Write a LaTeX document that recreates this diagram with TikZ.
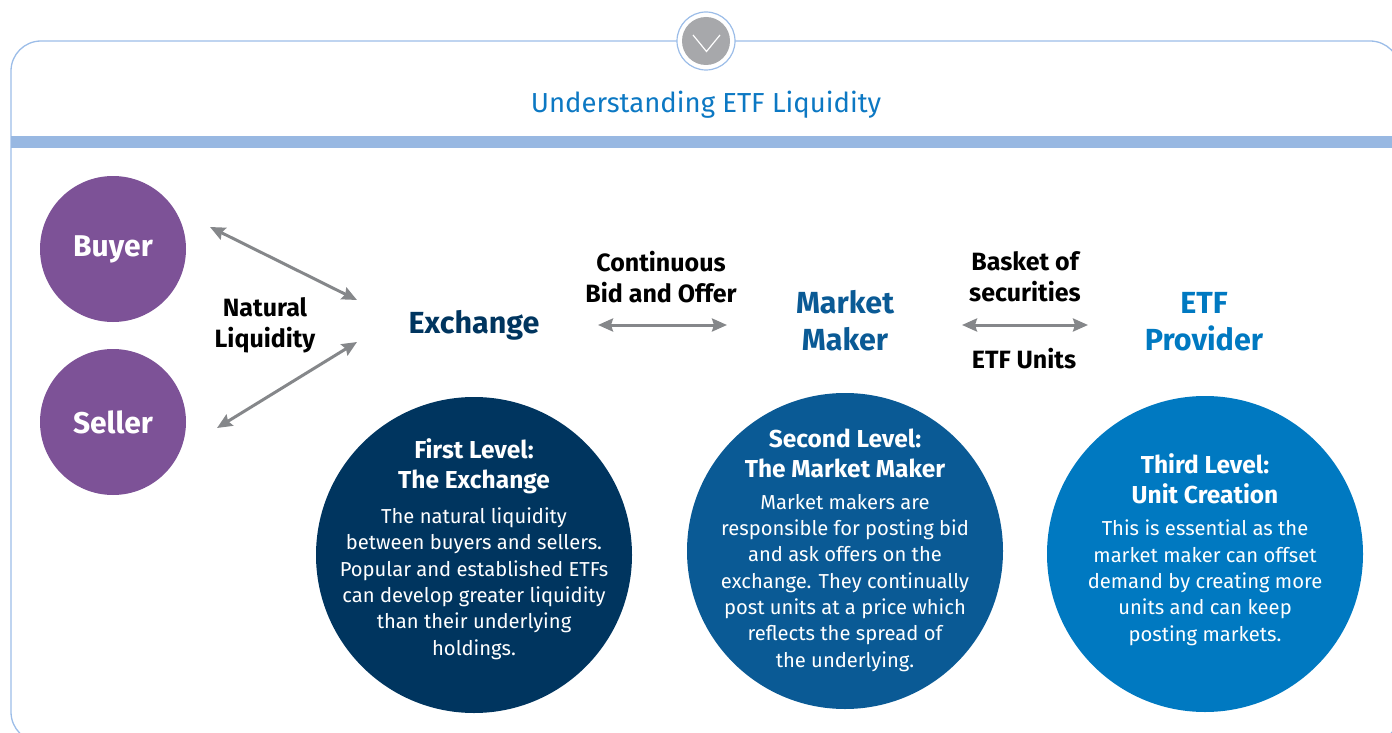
\documentclass[tikz,border=0pt]{standalone}
\usepackage{fontspec}
\setmainfont{Fira Sans}
\usetikzlibrary{arrows.meta}

\definecolor{framebl}{HTML}{9CBDE8}
\definecolor{bandbl}{HTML}{98B8E2}
\definecolor{badgegrey}{HTML}{A7A8AB}
\definecolor{titlebl}{HTML}{0C78C3}
\definecolor{traderpurple}{HTML}{7D5297}
\definecolor{levone}{HTML}{00355F}
\definecolor{levtwo}{HTML}{0A5A95}
\definecolor{levthree}{HTML}{0079C1}
\definecolor{linkgrey}{HTML}{85878A}

\begin{document}
\begin{tikzpicture}[
  x=1pt, y=-1pt, >={Stealth[length=15pt, width=13pt, inset=2pt]},
  every node/.style={align=center, inner sep=0pt},
  trader/.style={circle, fill=traderpurple, minimum size=146pt, text=white,
    font=\fontsize{30}{34}\selectfont\bfseries},
  level/.style={circle, minimum size=316pt},
  lvhead/.style={anchor=base, text=white, font=\fontsize{24.5}{29.5}\selectfont\bfseries},
  lvbody/.style={anchor=base, text=white, font=\fontsize{20.2}{26.3}\selectfont},
  role/.style={anchor=base, font=\fontsize{30.5}{37}\selectfont\bfseries},
  flow/.style={anchor=base, font=\fontsize{25}{31}\selectfont\bfseries},
  link/.style={<->, draw=linkgrey, line width=3pt}
]
  \useasboundingbox (0,0) rectangle (1392,733);
  \clip (0,0) rectangle (1392,733);

  % panel frame, band and the badge on top
  \draw[framebl, line width=1.3pt, rounded corners=30pt] (11,41) rectangle (1400,742);
  \fill[bandbl] (11,136) rectangle (1400,148);
  \node[circle, draw=framebl, fill=white, line width=1.2pt, minimum size=58pt] (badge) at (706,41) {};
  \node[circle, fill=badgegrey, minimum size=48pt] (badgein) at (706,41) {};
  \draw[white, line width=1.2pt] (693,35) -- (706.5,51.5) -- (720,35);
  \node[anchor=base, text=titlebl, font=\fontsize{27.5}{32}\selectfont] (title) at (706,113) {Understanding ETF Liquidity};

  % buyers and sellers
  \node[trader] (buyer) at (113,249) {Buyer};
  \node[trader] (seller) at (113,422) {Seller};

  % the three parties (base = last line)
  \node[role, text=levone] (exchange) at (474,333) {Exchange};
  \node[role, text=levtwo] (maker) at (845,350) {Market\\Maker};
  \node[role, text=levthree] (provider) at (1204,350) {ETF\\Provider};

  \node[flow] (natural) at (265,347) {Natural\\Liquidity};
  \node[flow] (bidoffer) at (661,302) {Continuous\\Bid and Offer};
  \node[flow] (basket) at (1025,301) {Basket of\\securities};
  \node[flow] (units) at (1024,368) {ETF Units};

  % arrow ends
  \coordinate (buyerend) at (210,227);
  \coordinate (exchtop) at (357,300);
  \coordinate (sellerend) at (217,428);
  \coordinate (exchbot) at (357,342);
  \coordinate (bidleft) at (598,325);
  \coordinate (bidright) at (727,325);
  \coordinate (basketleft) at (962,325);
  \coordinate (basketright) at (1088,325);

  \draw[link] (buyerend) -- (exchtop);
  \draw[link] (sellerend) -- (exchbot);
  \draw[link] (bidleft) -- (bidright);
  \draw[link] (basketleft) -- (basketright);

  % level circles
  \node[level, fill=levone] (lvone) at (474,555) {};
  \node[level, fill=levtwo] (lvtwo) at (845,551) {};
  \node[level, fill=levthree] (lvthree) at (1205,554) {};

  \node[lvhead] (headone) at (474,488) {First Level:\\The Exchange};
  \node[lvbody] (bodyone) at (474,655) {The natural liquidity\\between buyers and sellers.\\Popular and established ETFs\\can develop greater liquidity\\than their underlying\\holdings.};

  \node[lvhead] (headtwo) at (845,477) {Second Level:\\The Market Maker};
  \node[lvbody] (bodytwo) at (845,667) {Market makers are\\responsible for posting bid\\and ask offers on the\\exchange. They continually\\post units at a price which\\reflects the spread of\\the underlying.};

  \node[lvhead] (headthree) at (1205,503) {Third Level:\\Unit Creation};
  \node[lvbody] (bodythree) at (1205,641) {This is essential as the\\market maker can offset\\demand by creating more\\units and can keep\\posting markets.};
\end{tikzpicture}
\end{document}
